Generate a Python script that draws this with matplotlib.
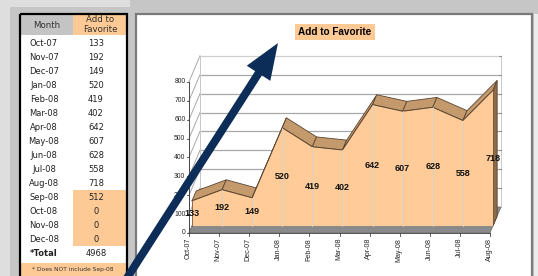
import matplotlib
matplotlib.use("Agg")
import matplotlib.pyplot as plt
from matplotlib.patches import Rectangle, Polygon, FancyArrow

# ---------------- data ----------------
table_months = ["Oct-07", "Nov-07", "Dec-07", "Jan-08", "Feb-08", "Mar-08", "Apr-08",
                "May-08", "Jun-08", "Jul-08", "Aug-08", "Sep-08", "Oct-08", "Nov-08", "Dec-08"]
table_values = [133, 192, 149, 520, 419, 402, 642, 607, 628, 558, 718, 512, 0, 0, 0]
highlight_months = ["Sep-08", "Oct-08", "Nov-08", "Dec-08"]
total_label = "*Total"
total_value = 4968
footnote = "* Does NOT include Sep-08"

chart_title = "Add to Favorite"
chart_months = ["Oct-07", "Nov-07", "Dec-07", "Jan-08", "Feb-08", "Mar-08",
                "Apr-08", "May-08", "Jun-08", "Jul-08", "Aug-08"]
chart_values = [133, 192, 149, 520, 419, 402, 642, 607, 628, 558, 718]
y_ticks = [0, 100, 200, 300, 400, 500, 600, 700, 800]

# ---------------- style ----------------
W, H = 538, 276
ORANGE = "#fdca95"
FRONT = "#ffcc99"
TOPF = "#c49a6c"
SIDE = "#8f6a47"
EDGE = "#5a4430"
NAVY = "#0c2d57"

fig = plt.figure(figsize=(W / 100, H / 100), dpi=100)
fig.patch.set_facecolor("#c6c6c6")

# background / layout axes in pixel units
bg = fig.add_axes([0, 0, 1, 1])
bg.set_xlim(0, W)
bg.set_ylim(H, 0)
bg.axis("off")

bg.add_patch(Rectangle((0, 0), 130, 7, color="#dedede", lw=0))
bg.add_patch(Rectangle((0, 0), 10, H, color="#dedede", lw=0))
bg.add_patch(Rectangle((534, 14), 6, H, color="#ececec", lw=0))

# ----- table panel -----
tx0, tx1, tmid = 21, 126, 73
bg.add_patch(Rectangle((tx0, 14), tx1 - tx0, H, facecolor="white", lw=0))
bg.add_patch(Rectangle((tx0, 14), tmid - tx0, 21, facecolor="#c4c4c4", lw=0))
bg.add_patch(Rectangle((tmid, 14), tx1 - tmid, 21, facecolor=ORANGE, lw=0))
row0, dy = 43, 14
for k, (m, v) in enumerate(zip(table_months, table_values)):
    yc = row0 + dy * k
    if m in highlight_months:
        bg.add_patch(Rectangle((tmid, yc - 7), tx1 - tmid, dy, facecolor=ORANGE, lw=0))
    bg.text(44, yc, m, ha="center", va="center", fontsize=6, color="#222222",
            family="DejaVu Sans")
    bg.text(96, yc, str(v), ha="center", va="center", fontsize=6, color="#222222",
            family="DejaVu Sans")
yt = row0 + dy * len(table_months)
bg.text(44, yt, total_label, ha="center", va="center", fontsize=6, fontweight="bold",
        color="#222222", family="DejaVu Sans")
bg.text(96, yt, str(total_value), ha="center", va="center", fontsize=6, color="#222222",
        family="DejaVu Sans")
bg.add_patch(Rectangle((tx0, 263), tx1 - tx0, 20, facecolor=ORANGE, lw=0))
bg.text(73, 270, footnote, ha="center", va="center", fontsize=4.3, color="#333333",
        family="DejaVu Sans")
bg.text(47, 25, "Month", ha="center", va="center", fontsize=6.2, color="#333333",
        family="DejaVu Sans")
bg.text(100, 24.5, "Add to\nFavorite", ha="center", va="center", fontsize=6.2,
        color="#333333", family="DejaVu Sans", linespacing=1.0)
bg.add_patch(Rectangle((20, 13.5), 107, H, facecolor="none", edgecolor="black", lw=1.6))

# ----- chart panel -----
bg.add_patch(Rectangle((136, 14), 396, H, facecolor="white", edgecolor="#7a7a7a", lw=1.6))
bg.text(335, 32, chart_title, ha="center", va="center", fontsize=7.2, fontweight="bold",
        family="Liberation Sans", color="black",
        bbox=dict(boxstyle="square,pad=0.3", facecolor=ORANGE, edgecolor="none"))

# ----- pseudo-3D area chart in data coordinates -----
PX_PER_CAT = 30.1
PX_PER_VAL = 0.189
X0, Y0 = 189, 233
ax_l, ax_r, ax_t = 135, 533, 13
ax = fig.add_axes([ax_l / W, 0, (ax_r - ax_l) / W, (H - ax_t) / H])
ax.set_xlim((ax_l - X0) / PX_PER_CAT, (ax_r - X0) / PX_PER_CAT)
ax.set_ylim((Y0 - H) / PX_PER_VAL, (Y0 - ax_t) / PX_PER_VAL)
ax.axis("off")
ax.patch.set_alpha(0)

DX = 11 / PX_PER_CAT      # full depth offset in category units
DV = 26 / PX_PER_VAL      # full depth offset in value units
D_FRONT, D_BACK = 0.27, 0.65


def P(i, v, d):
    return (i + d * DX, v + d * DV)


n = len(chart_values)
last = n - 1
top = y_ticks[-1]
grid_c = "#a8a8a8"

# walls
for L in y_ticks:
    a, b = P(0, L, 0), P(0, L, 1)
    ax.plot([a[0], b[0]], [a[1], b[1]], color=grid_c, lw=0.7, zorder=1)
    if L > 0:
        c = P(last, L, 1)
        ax.plot([b[0], c[0]], [b[1], c[1]], color=grid_c if L < top else "#d0d0d0",
                lw=0.9, zorder=1)
for i in (0, last):
    a, b = P(i, 0, 1), P(i, top, 1)
    ax.plot([a[0], b[0]], [a[1], b[1]], color="#c8c8c8", lw=0.7, zorder=1)
for L in y_ticks[1:]:
    a = P(last, L, 1)
    ax.plot([a[0] - 0.06, a[0]], [a[1], a[1]], color="#888888", lw=0.6, zorder=1)

# floor
floor = [P(0, 0, 0), P(last, 0, 0), P(last, 0, 1), P(0, 0, 1)]
ax.add_patch(Polygon(floor, closed=True, facecolor="#8a8a8a", edgecolor="#6a6a6a",
                     lw=0.5, zorder=2))

# top faces
for k in range(n - 1):
    poly = [P(k, chart_values[k], D_FRONT), P(k + 1, chart_values[k + 1], D_FRONT),
            P(k + 1, chart_values[k + 1], D_BACK), P(k, chart_values[k], D_BACK)]
    ax.add_patch(Polygon(poly, closed=True, facecolor=TOPF, edgecolor=EDGE, lw=0.6,
                         zorder=3))
# right side face
side = [P(last, 0, D_FRONT), P(last, chart_values[-1], D_FRONT),
        P(last, chart_values[-1], D_BACK), P(last, 0, D_BACK)]
ax.add_patch(Polygon(side, closed=True, facecolor=SIDE, edgecolor=EDGE, lw=0.6, zorder=3))
# front face
front = [P(i, v, D_FRONT) for i, v in enumerate(chart_values)]
front += [P(last, 0, D_FRONT), P(0, 0, D_FRONT)]
ax.add_patch(Polygon(front, closed=True, facecolor=FRONT, edgecolor="none", zorder=4))
fx = [P(i, v, D_FRONT)[0] for i, v in enumerate(chart_values)]
fy = [P(i, v, D_FRONT)[1] for i, v in enumerate(chart_values)]
ax.plot(fx, fy, color=EDGE, lw=0.7, zorder=5)
ax.plot([fx[0], fx[0]], [fy[0], P(0, 0, D_FRONT)[1]], color=EDGE, lw=0.5, zorder=5)
# vertical gridlines seen on the area
for i in range(1, last):
    a, b = P(i, 0, D_FRONT), P(i, chart_values[i], D_FRONT)
    ax.plot([a[0], b[0]], [a[1], b[1]], color="#d9d2c8", lw=0.6, zorder=5)

# front axes
a, b = P(0, 0, 0), P(0, top, 0)
ax.plot([a[0], b[0]], [a[1], b[1]], color="#444444", lw=0.7, zorder=6)
a, b = P(0, 0, 0), P(last, 0, 0)
ax.plot([a[0], b[0]], [a[1], b[1]], color="#555555", lw=0.7, zorder=6)
for L in y_ticks:
    ax.plot([-0.07, 0], [L, L], color="#444444", lw=0.6, zorder=6)
    ax.text(-0.12, L, str(L), ha="right", va="center", fontsize=4.9,
            family="Liberation Sans", color="#222222", zorder=6)
for i, m in enumerate(chart_months):
    ax.plot([i, i], [0, -16], color="#444444", lw=0.6, zorder=6)
    ax.text(i - 0.03, -26, m, ha="center", va="top", rotation=90, fontsize=5.1,
            family="Liberation Sans", color="#222222", zorder=6)

# value labels
for i, v in enumerate(chart_values):
    x, y = P(i, v / 2, D_FRONT)
    ax.text(x, y, str(v), ha="center", va="center", fontsize=6.5, fontweight="bold",
            family="Liberation Sans", color="#111111", zorder=7)

# ----- overlay arrow -----
ov = fig.add_axes([0, 0, 1, 1])
ov.set_xlim(0, W)
ov.set_ylim(H, 0)
ov.axis("off")
ov.patch.set_alpha(0)
ov.add_patch(FancyArrow(118, 292, 160, -249, width=8, head_width=28, head_length=36,
                        length_includes_head=True, color=NAVY, lw=0))

fig.savefig("out.png", dpi=100)
